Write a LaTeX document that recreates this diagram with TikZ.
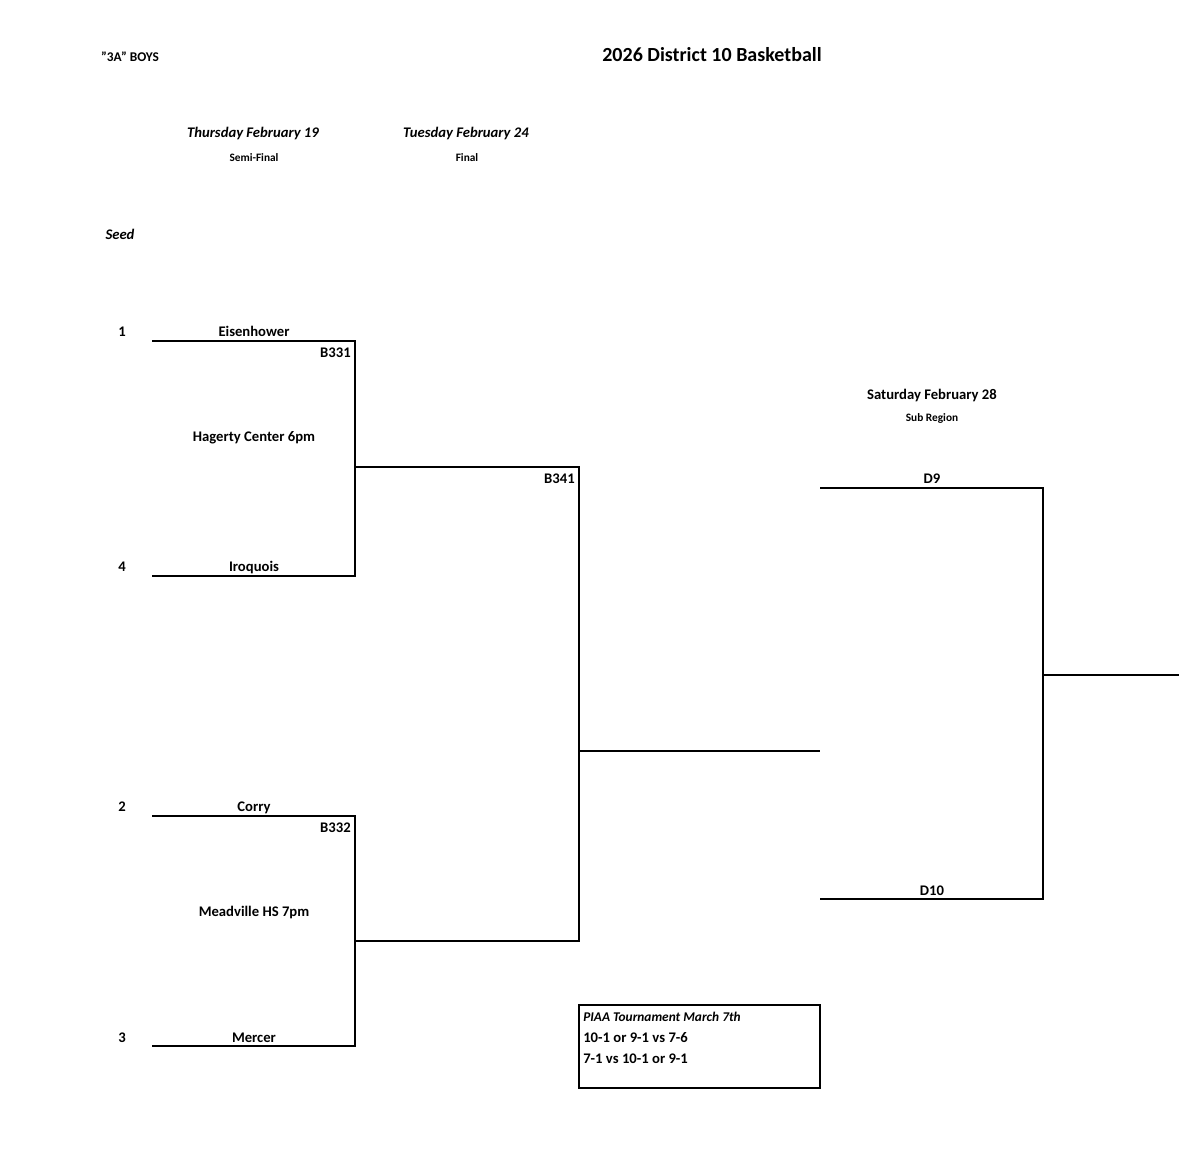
\documentclass[tikz,border=0pt]{standalone}
\usepackage{fontspec}
\setmainfont{Carlito}
\begin{document}
\begin{tikzpicture}[x=0.75pt,y=-0.75pt,
  ln/.style={line width=1.2pt},
  lab/.style={font=\fontsize{11}{13}\selectfont\bfseries,anchor=base,inner sep=0pt},
  sm/.style={font=\fontsize{8.5}{10}\selectfont\bfseries,anchor=base,inner sep=0pt},
  it/.style={font=\fontsize{11}{13}\selectfont\bfseries\itshape,anchor=base,inner sep=0pt}]
\useasboundingbox (0,0) rectangle (1179,1161);
% titles
\node[sm,font=\fontsize{10}{12}\selectfont\bfseries] (t1) at (130,61) {"3A" BOYS};
\node[lab,font=\fontsize{15}{18}\selectfont\bfseries] (t2) at (712,61) {2026 District 10 Basketball};
\node[it] (d1) at (253,137) {Thursday February 19};
\node[sm] (r1) at (254,161) {Semi-Final};
\node[it] (d2) at (466,137) {Tuesday February 24};
\node[sm] (r2) at (467,161) {Final};
\node[it] (seed) at (120,239) {Seed};
\node[lab] (d3) at (932,399) {Saturday February 28};
\node[sm] (r3) at (932,421) {Sub Region};
% seeds
\node[lab] (s1) at (122,336) {1};
\node[lab] (s4) at (122,571) {4};
\node[lab] (s2) at (122,811) {2};
\node[lab] (s3) at (122,1042) {3};
% coordinates
\coordinate (a1) at (152,341); \coordinate (a2) at (355,341);
\coordinate (b1) at (152,576); \coordinate (b2) at (355,576);
\coordinate (c1) at (152,816); \coordinate (c2) at (355,816);
\coordinate (e1) at (152,1046); \coordinate (e2) at (355,1046);
\coordinate (m1) at (355,467); \coordinate (m2) at (579,467);
\coordinate (n1) at (355,941); \coordinate (n2) at (579,941);
\coordinate (f1) at (579,751); \coordinate (f2) at (820,751);
\coordinate (g1) at (820,488); \coordinate (g2) at (1043,488);
\coordinate (h1) at (820,899); \coordinate (h2) at (1043,899);
\coordinate (k1) at (1043,675); \coordinate (k2) at (1179,675);
\draw[ln] (a1) -- (a2) -- (b2) -- (b1);
\draw[ln] (c1) -- (c2) -- (e2) -- (e1);
\draw[ln] (m1) -- (m2) -- (n2) -- (n1);
\draw[ln] (f1) -- (f2);
\draw[ln] (g1) -- (g2) -- (h2) -- (h1);
\draw[ln] (k1) -- (k2);
% teams
\node[lab] (eis) at (254,336) {Eisenhower};
\node[lab] (iro) at (254,571) {Iroquois};
\node[lab] (cor) at (254,811) {Corry};
\node[lab] (mer) at (254,1042) {Mercer};
\node[lab] (hag) at (254,441) {Hagerty Center 6pm};
\node[lab] (mea) at (254,916) {Meadville HS 7pm};
\node[lab,anchor=base east] (g331) at (351,357) {B331};
\node[lab,anchor=base east] (g332) at (351,832) {B332};
\node[lab,anchor=base east] (g341) at (575,483) {B341};
\node[lab] (d9) at (932,483) {D9};
\node[lab] (d10) at (932,895) {D10};
% box
\draw[ln] (579,1005) rectangle (820,1088);
\node[lab,anchor=base west,font=\fontsize{10}{12}\selectfont\bfseries\itshape] (p1) at (583,1021) {PIAA Tournament March 7th};
\node[lab,anchor=base west] (p2) at (583,1042) {10-1 or 9-1 vs 7-6};
\node[lab,anchor=base west] (p3) at (583,1063) {7-1 vs 10-1 or 9-1};
\end{tikzpicture}
\end{document}
